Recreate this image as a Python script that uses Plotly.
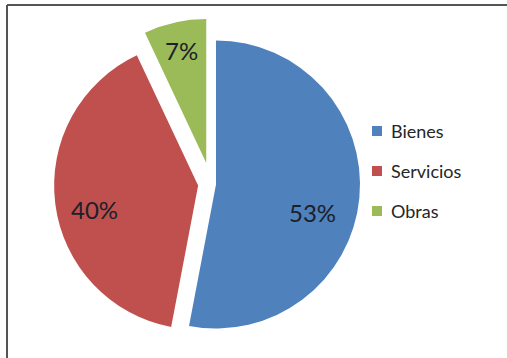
import math
import plotly.graph_objects as go

# Contract types and their share of the total
categories = ["Bienes", "Servicios", "Obras"]
shares = [53, 40, 7]
colors = ["#4F81BD", "#C0504D", "#9BBB59"]
pulls = [0.035, 0.09, 0.15]

# Percentage label placement: (angle shift from slice middle in degrees, radius fraction)
label_place = [(10.5, 0.70), (-6.0, 0.74), (0.0, 0.80)]

W, H = 507, 358
dom_x = [0.0895, 0.7428]
dom_y = [0.0235, 0.9486]

fig = go.Figure(
    go.Pie(
        labels=categories,
        values=shares,
        sort=False,
        direction="clockwise",
        rotation=0,
        pull=pulls,
        marker=dict(colors=colors, line=dict(width=0)),
        textinfo="none",
        domain=dict(x=dom_x, y=dom_y),
        showlegend=False,
        hoverinfo="label+percent",
    )
)

# Pie geometry as plotly lays it out (pixels, y downward)
box_w = (dom_x[1] - dom_x[0]) * W
box_h = (dom_y[1] - dom_y[0]) * H
radius = min(box_w, box_h) / (2 + 2 * max(pulls))
cx = (dom_x[0] + dom_x[1]) / 2 * W
cy = (1 - (dom_y[0] + dom_y[1]) / 2) * H

total = sum(shares)
annotations = []
start = 0.0
for share, pull, (shift, frac) in zip(shares, pulls, label_place):
    span = 360.0 * share / total
    mid = math.radians(start + span / 2)
    ang = math.radians(start + span / 2 + shift)
    vx = cx + pull * radius * math.sin(mid)
    vy = cy - pull * radius * math.cos(mid)
    px = vx + frac * radius * math.sin(ang)
    py = vy - frac * radius * math.cos(ang)
    annotations.append(dict(
        text=f"{round(100 * share / total)}%", xref="paper", yref="paper",
        x=px / W, y=1 - py / H, xanchor="center", yanchor="middle",
        showarrow=False, font=dict(family="Lato", size=24, color="#1b1f2a"),
    ))
    start += span

# Legend: colour swatches with category names stacked on the right
shapes = []
legend_top = 131
row_gap = 40
for i, (name, col) in enumerate(zip(categories, colors)):
    yc = legend_top + i * row_gap
    shapes.append(dict(
        type="rect", xref="paper", yref="paper",
        x0=372 / W, x1=382 / W,
        y0=1 - (yc + 5) / H, y1=1 - (yc - 5) / H,
        fillcolor=col, line=dict(width=0),
    ))
    annotations.append(dict(
        text=name, xref="paper", yref="paper",
        x=389 / W, y=1 - yc / H, xanchor="left", yanchor="middle",
        showarrow=False, font=dict(family="Lato", size=18, color="#262626"),
    ))

# Frame lines along the top and left edges
shapes.append(dict(type="line", xref="paper", yref="paper",
                   x0=7 / W, x1=1.02, y0=1 - 5 / H, y1=1 - 5 / H,
                   line=dict(color="#555555", width=2)))
shapes.append(dict(type="line", xref="paper", yref="paper",
                   x0=7 / W, x1=7 / W, y0=1 - 5 / H, y1=-0.02,
                   line=dict(color="#555555", width=2)))

fig.update_layout(
    width=W, height=H,
    margin=dict(l=0, r=0, t=0, b=0),
    paper_bgcolor="white",
    plot_bgcolor="white",
    shapes=shapes,
    annotations=annotations,
)

fig.write_html("out.html")
